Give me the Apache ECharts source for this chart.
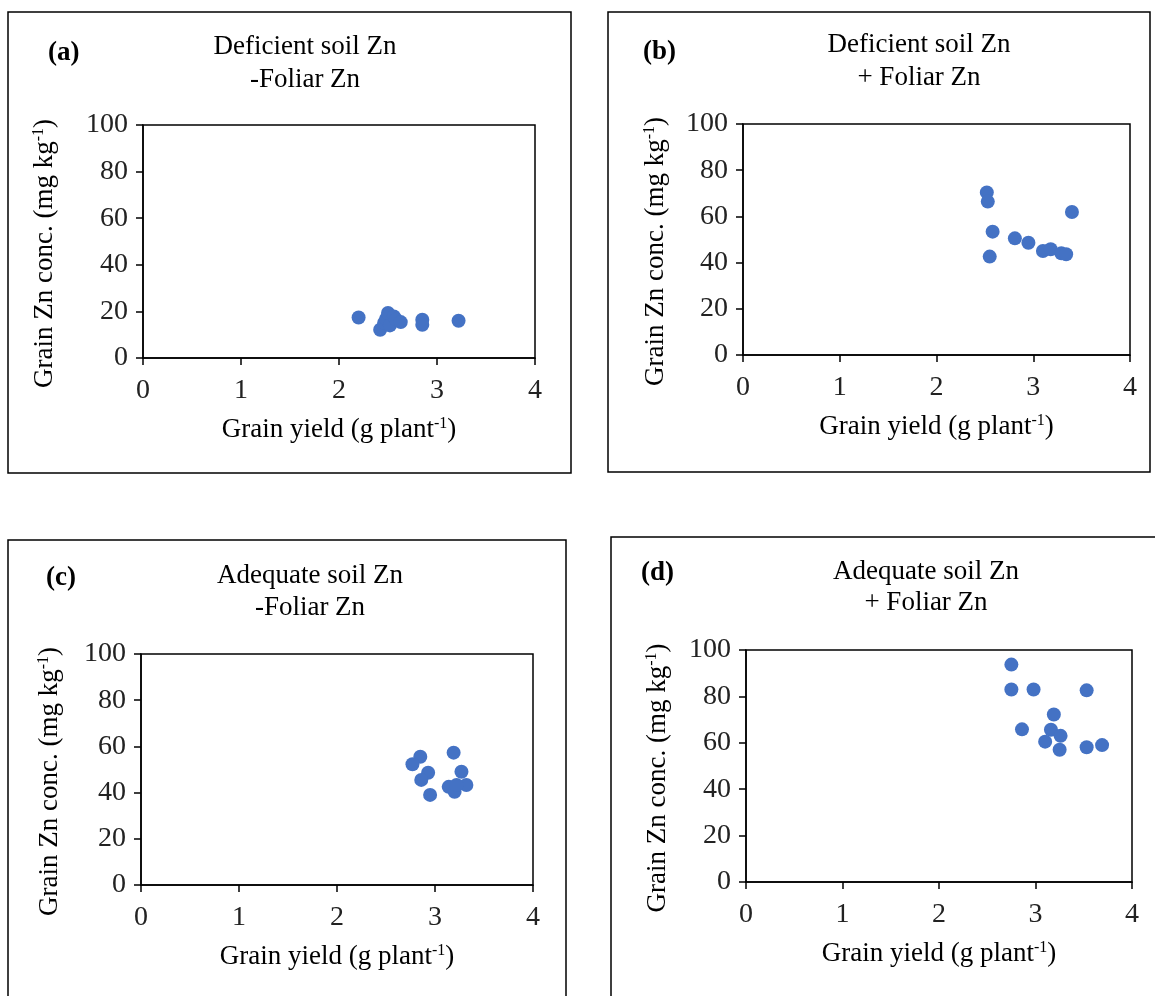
<!DOCTYPE html>
<html>
<head>
<meta charset="utf-8">
<script src="https://cdn.jsdelivr.net/npm/echarts@6/dist/echarts.min.js"></script>
<style>
  html, body { margin: 0; padding: 0; background: #fff; }
  #main { width: 1155px; height: 996px; }
</style>
</head>
<body>
<div id="main"></div>
<script>
// values: grain yield (g/plant) and grain Zn (mg/kg)
const yieldA = [2.20, 2.42, 2.46, 2.48, 2.50, 2.52, 2.56, 2.58, 2.63, 2.85, 2.85, 3.22];
const znA    = [17.4, 12.1, 15.0, 16.8, 19.3, 14.0, 17.8, 16.5, 15.4, 16.4, 14.3, 16.0];

const yieldB = [2.52, 2.53, 2.58, 2.55, 2.81, 2.95, 3.10, 3.18, 3.29, 3.34, 3.40];
const znB    = [70.4, 66.4, 53.4, 42.6, 50.5, 48.6, 45.0, 45.8, 44.0, 43.6, 61.9];

const yieldC = [2.85, 2.77, 2.93, 2.86, 2.95, 3.19, 3.27, 3.14, 3.20, 3.32, 3.22];
const znC    = [55.5, 52.3, 48.6, 45.5, 39.0, 57.3, 49.0, 42.5, 40.4, 43.3, 43.3];

const yieldD = [2.75, 2.75, 2.98, 3.53, 3.19, 2.86, 3.16, 3.26, 3.10, 3.25, 3.53, 3.69];
const znD    = [93.7, 83.0, 83.0, 82.6, 72.2, 65.8, 65.6, 63.0, 60.5, 57.0, 58.1, 59.0];

const panelTags = ['(a)', '(b)', '(c)', '(d)'];
const titleLine1 = ['Deficient soil Zn', 'Deficient soil Zn', 'Adequate soil Zn', 'Adequate soil Zn'];
const titleLine2 = ['-Foliar Zn', '+ Foliar Zn', '-Foliar Zn', '+ Foliar Zn'];
const xTicks = [0, 1, 2, 3, 4];
const yTicks = [0, 20, 40, 60, 80, 100];

const FONT = '"Liberation Serif", "Times New Roman", serif';
const BLUE = '#4472C4';

// layout of the four panels (px)
const grids = [
    { left: 143, top: 125, width: 392, height: 233 },
    { left: 743, top: 124, width: 387, height: 231 },
    { left: 141, top: 654, width: 392, height: 231 },
    { left: 746, top: 650, width: 386, height: 232 }
];
const boxes = [
    { x: 8, y: 12, width: 563, height: 461 },
    { x: 608, y: 12, width: 542, height: 460 },
    { x: 8, y: 540, width: 558, height: 480 },
    { x: 611, y: 537, width: 600, height: 500 }
];
const titlePos = [
    { cx: 305, y1: 47, y2: 80, tx: 48, ty: 53 },
    { cx: 919, y1: 45, y2: 78, tx: 643, ty: 52 },
    { cx: 310, y1: 576, y2: 608, tx: 46, ty: 578 },
    { cx: 926, y1: 572, y2: 603, tx: 641, ty: 573 }
];
const yNameGap = [85, 74, 78, 75];

const richName = {
    n: { fontFamily: FONT, fontSize: 27, color: '#000' },
    s: { fontFamily: FONT, fontSize: 16, color: '#000', verticalAlign: 'top', padding: [0, 0, 10, 0] }
};

const allData = [[yieldA, znA], [yieldB, znB], [yieldC, znC], [yieldD, znD]];

const lineStyle = { color: '#000', width: 1.5 };

const option = {
    animation: false,
    grid: grids.map(g => Object.assign({
        show: true, borderColor: '#000', borderWidth: 1.5, backgroundColor: 'transparent'
    }, g)),
    xAxis: grids.map((g, i) => ({
        gridIndex: i,
        type: 'value',
        min: xTicks[0],
        max: xTicks[xTicks.length - 1],
        interval: 1,
        name: '{n|Grain yield (g plant}{s|-1}{n|)}',
        nameLocation: 'middle',
        nameGap: 58,
        nameTextStyle: { rich: richName },
        axisLine: { show: true, onZero: false, lineStyle: lineStyle },
        axisTick: { show: true, inside: false, length: 7, lineStyle: lineStyle },
        splitLine: { show: false },
        axisLabel: { margin: 19, fontFamily: FONT, fontSize: 28, color: '#222' }
    })),
    yAxis: grids.map((g, i) => ({
        gridIndex: i,
        type: 'value',
        min: yTicks[0],
        max: yTicks[yTicks.length - 1],
        interval: 20,
        name: '{n|Grain Zn conc. (mg kg}{s|-1}{n|)}',
        nameLocation: 'middle',
        nameGap: yNameGap[i],
        nameTextStyle: { rich: richName, padding: [0, 24, 0, 0] },
        axisLine: { show: true, onZero: false, lineStyle: lineStyle },
        axisTick: { show: true, inside: false, length: 7, lineStyle: lineStyle },
        splitLine: { show: false },
        axisLabel: { margin: 15, fontFamily: FONT, fontSize: 28, color: '#222' }
    })),
    series: allData.map((d, i) => ({
        type: 'scatter',
        xAxisIndex: i,
        yAxisIndex: i,
        symbol: 'circle',
        symbolSize: 14,
        itemStyle: { color: BLUE, opacity: 1 },
        data: d[0].map((x, k) => [x, d[1][k]])
    })),
    graphic: []
};

// panel frames, tags and titles
boxes.forEach((b, i) => {
    option.graphic.push({
        type: 'rect', silent: true, z: 100,
        shape: b,
        style: { fill: 'none', stroke: '#000', lineWidth: 1.5 }
    });
    const p = titlePos[i];
    option.graphic.push({
        type: 'text', z: 100,
        x: p.tx, y: p.ty,
        style: { text: panelTags[i], font: 'bold 27px ' + FONT, fill: '#000', textVerticalAlign: 'middle' }
    });
    option.graphic.push({
        type: 'text', z: 100,
        x: p.cx, y: p.y1,
        style: { text: titleLine1[i], font: '27px ' + FONT, fill: '#000', textAlign: 'center', textVerticalAlign: 'middle' }
    });
    option.graphic.push({
        type: 'text', z: 100,
        x: p.cx, y: p.y2,
        style: { text: titleLine2[i], font: '27px ' + FONT, fill: '#000', textAlign: 'center', textVerticalAlign: 'middle' }
    });
});

const chart = echarts.init(document.getElementById('main'));
chart.setOption(option);
</script>
</body>
</html>
